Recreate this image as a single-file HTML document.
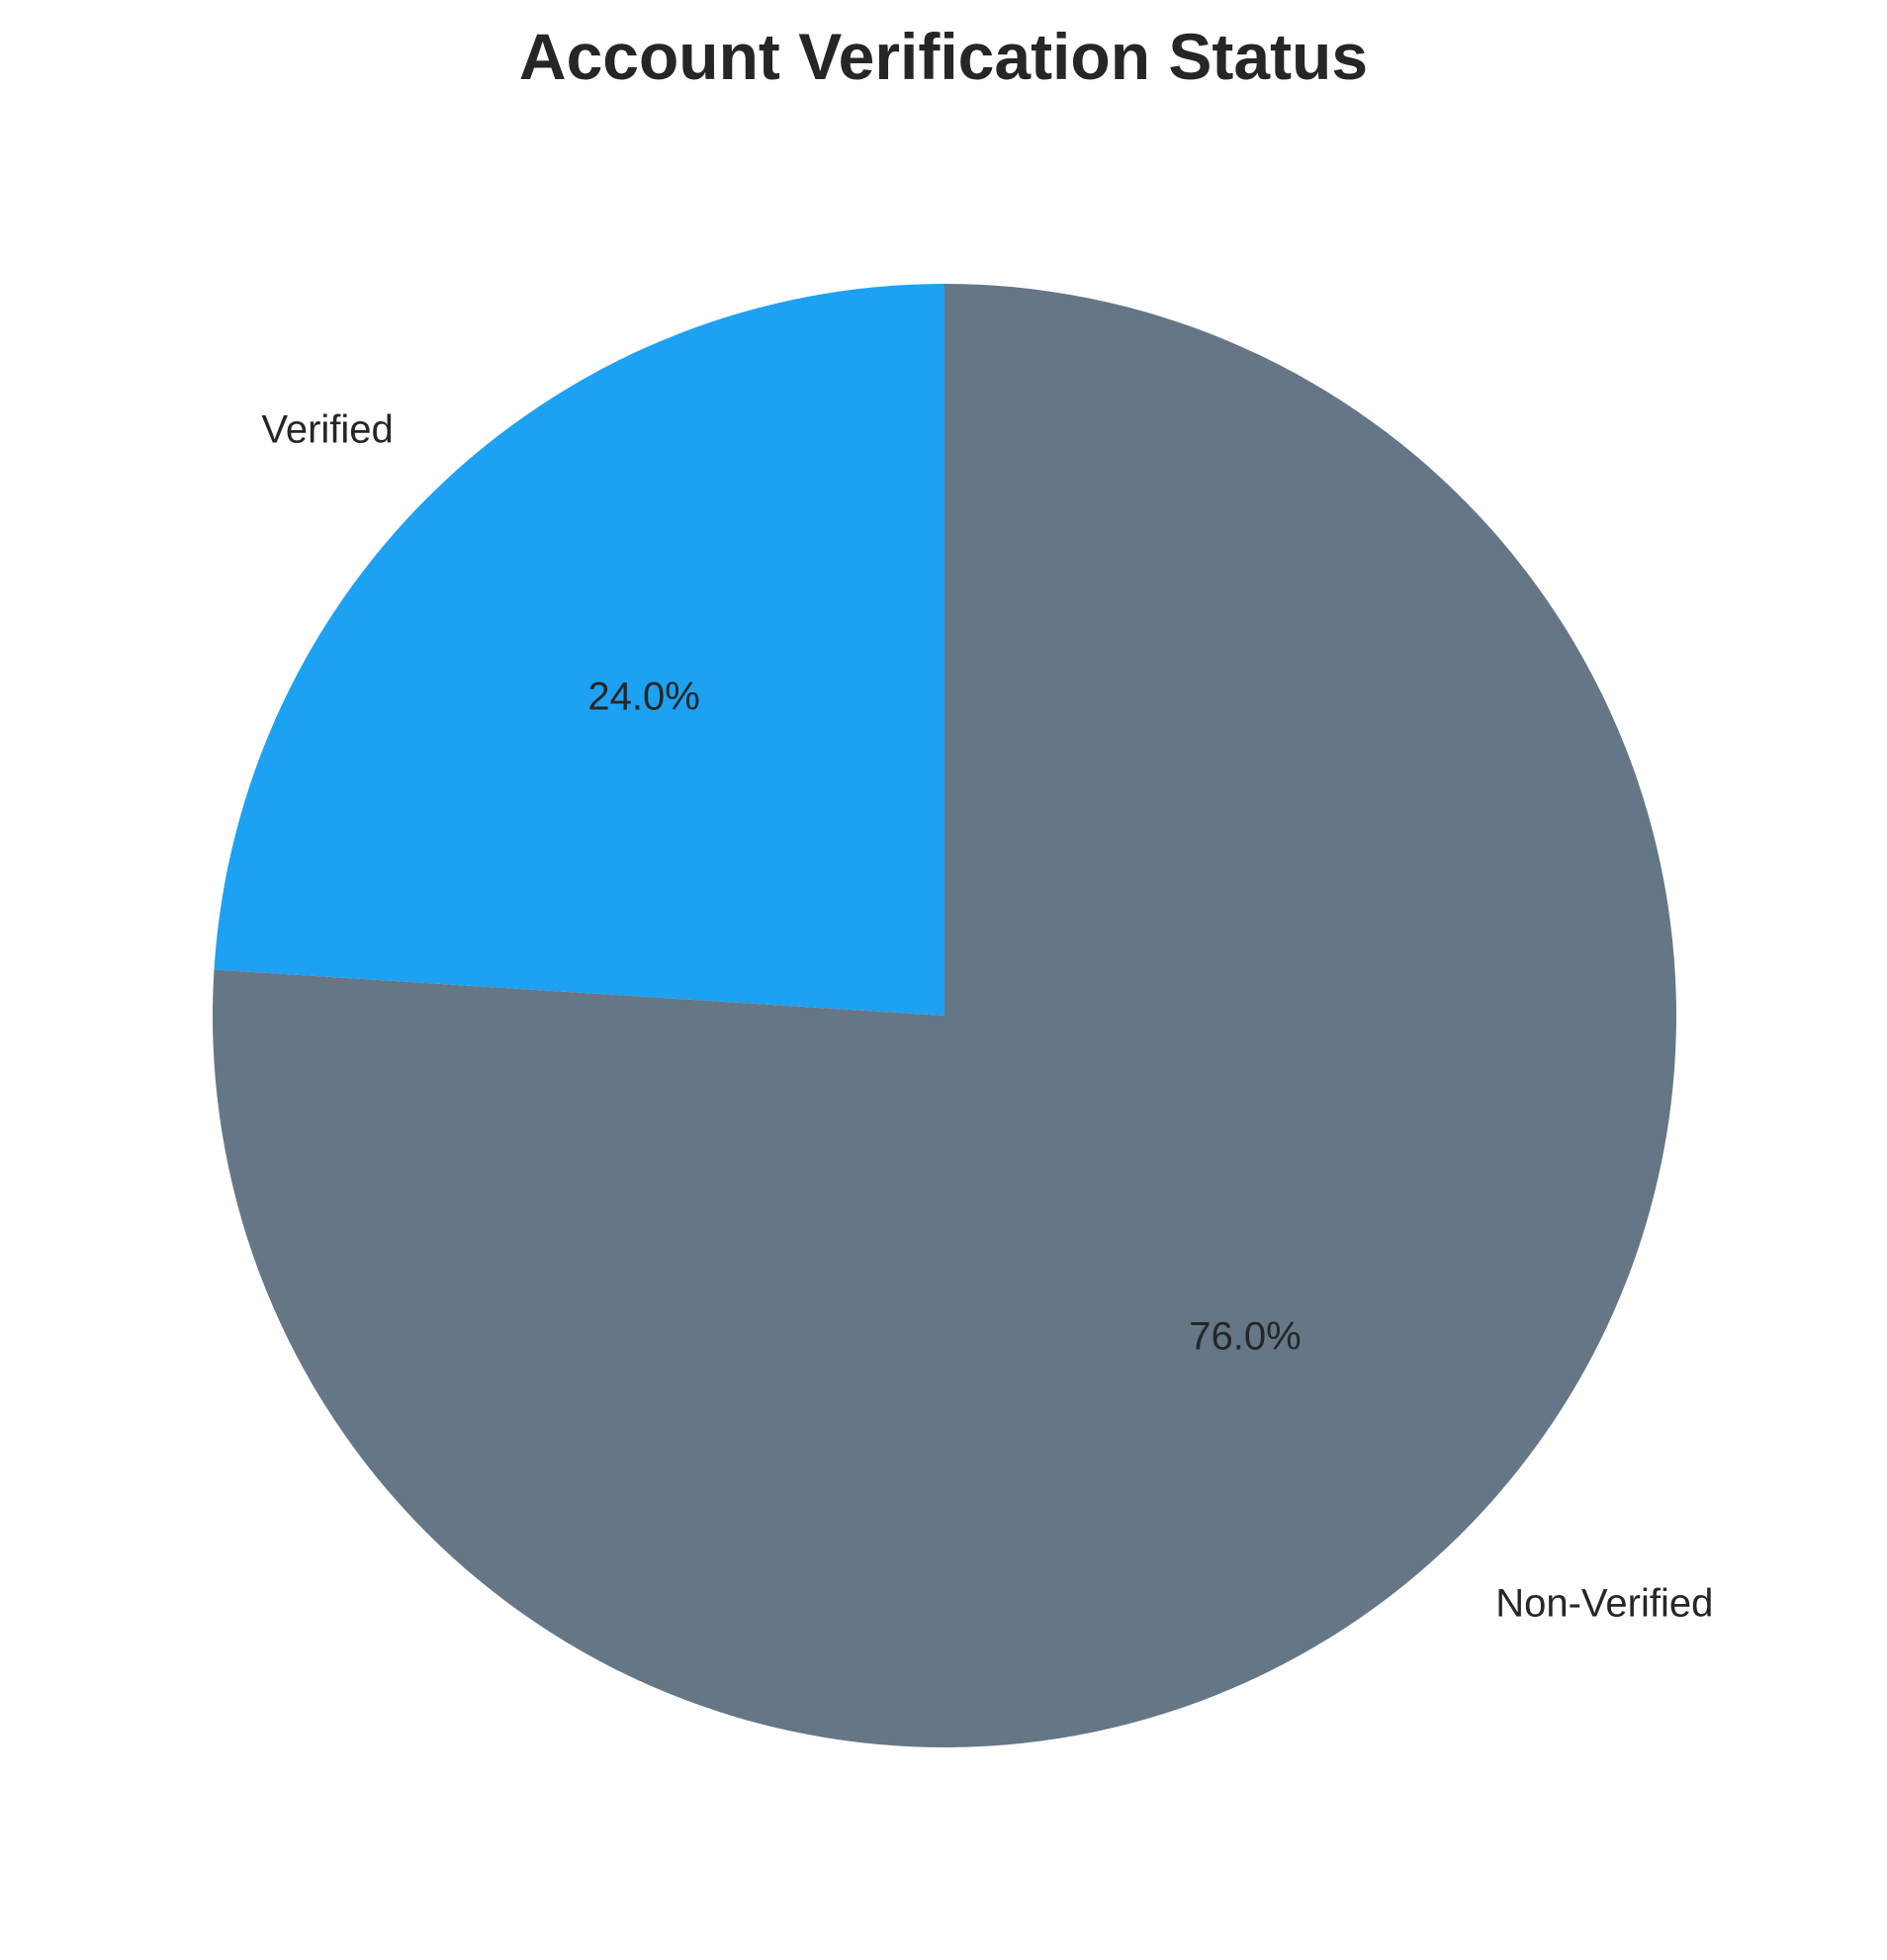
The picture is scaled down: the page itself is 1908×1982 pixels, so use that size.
<!DOCTYPE html>
<html><head><meta charset="utf-8"><style>
html,body{margin:0;padding:0;background:#fff;}
svg{display:block;font-family:"Liberation Sans",Arial,sans-serif;}
</style></head><body>
<svg id="chart" width="1908" height="1982" viewBox="0 0 1908 1982" xmlns="http://www.w3.org/2000/svg">
<text x="954" y="80" text-anchor="middle" font-size="66" font-weight="bold" fill="#262626">Account Verification Status</text>
<g id="slices"></g>
</svg>
<script>
const categories = ["Verified", "Non-Verified"];
const values = [24.0, 76.0];
const colors = ["#1da1f2", "#657786"];

const cx = 955, cy = 1027, r = 740;
const svgNS = "http://www.w3.org/2000/svg";
const g = document.getElementById('slices');
const total = values.reduce((a,b)=>a+b,0);
function pt(angDeg, rad){ const a = angDeg*Math.PI/180; return [cx + rad*Math.cos(a), cy - rad*Math.sin(a)]; }
let start = 90;
const labelsLayer = [];
values.forEach((v,i)=>{
  const sweep = v/total*360;
  const end = start + sweep;
  const [x1,y1] = pt(start,r), [x2,y2] = pt(end,r);
  const large = sweep > 180 ? 1 : 0;
  const p = document.createElementNS(svgNS,'path');
  p.setAttribute('d', `M${cx},${cy} L${x1},${y1} A${r},${r} 0 ${large} 0 ${x2},${y2} Z`);
  p.setAttribute('fill', colors[i]);
  
  
  g.appendChild(p);
  const mid = start + sweep/2;
  const midR = mid*Math.PI/180;
  const [lx,ly] = pt(mid, r*1.1);
  const t = document.createElementNS(svgNS,'text');
  t.setAttribute('x', lx); t.setAttribute('y', ly + 14);
  t.setAttribute('text-anchor', Math.cos(midR) < 0 ? 'end' : 'start');
  t.setAttribute('font-size', '40'); t.setAttribute('fill', '#262626');
  t.textContent = categories[i];
  
  
  labelsLayer.push(t);
  const [px,py] = pt(mid, r*0.6);
  const pc = document.createElementNS(svgNS,'text');
  pc.setAttribute('x', px); pc.setAttribute('y', py + 14);
  pc.setAttribute('text-anchor', 'middle');
  pc.setAttribute('font-size', '40'); pc.setAttribute('fill', '#262626');
  pc.textContent = (v/total*100).toFixed(1) + '%';
  
  
  labelsLayer.push(pc);
  start = end;
});
labelsLayer.forEach(t=>g.appendChild(t));
</script>
</body></html>
